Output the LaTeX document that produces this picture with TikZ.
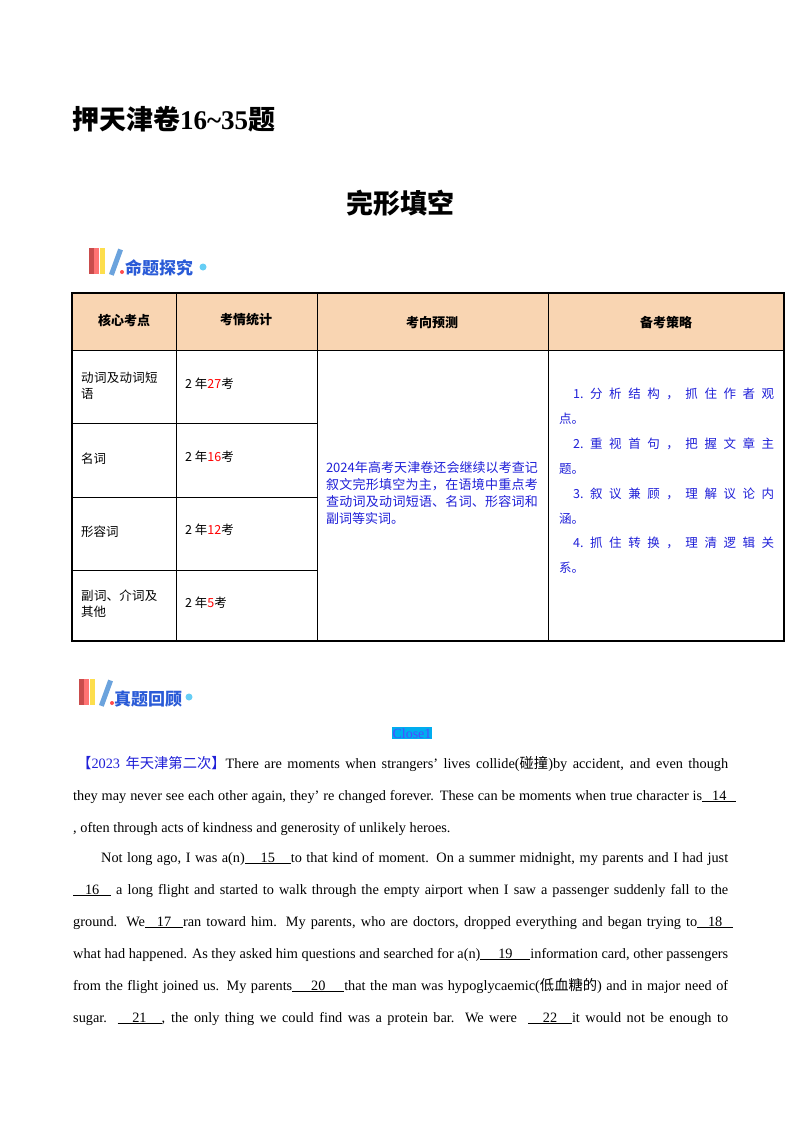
\documentclass[tikz,border=0pt]{standalone}
\usepackage{fontspec}
\setmainfont{Liberation Serif}
\newfontfamily\cjk{Noto Sans CJK SC}
\XeTeXlinebreaklocale "zh"
\XeTeXlinebreakskip=0pt plus 1pt
\usetikzlibrary{positioning}
\definecolor{peach}{HTML}{F9D5B2}
\definecolor{tblue}{HTML}{2020D8}
\definecolor{hblue}{HTML}{2A5BD7}
\newcommand{\bl}[2]{\underline{\makebox[#1pt]{#2}}}
\newcommand{\zh}[1]{{\cjk #1}}
\tikzset{x=1pt,y=-1pt,
 ln/.style={anchor=base west,inner sep=0pt,font=\fontsize{14.3}{15}\selectfont},
 cell/.style={anchor=west,inner sep=0pt,font=\cjk\fontsize{12.5}{16}\selectfont},
 hd/.style={inner sep=0pt,font=\cjk\bfseries\fontsize{13}{15}\selectfont},
 blu/.style={inner sep=0pt,font=\cjk\fontsize{12.5}{17}\selectfont,text=tblue}}
\newcommand{\books}[2]{%
 \fill[red!70!black!70] (#1,#2) rectangle ++(5,-26);
 \fill[red!55] (#1+5,#2) rectangle ++(5,-26);
 \fill[yellow!70!orange!70] (#1+11,#2) rectangle ++(5,-26);
 \fill[cyan!60!blue!60,rotate around={-20:(#1+20,#2)}] (#1+20,#2) rectangle ++(5,-27);
 \fill[red!70] (#1+33,#2-2) circle (2);}
\begin{document}
\begin{tikzpicture}
\useasboundingbox (0,0) rectangle (800,1132);
\fill[white] (0,0) rectangle (800,1132);
\node[anchor=base west,inner sep=0pt,font=\cjk\bfseries\fontsize{27}{30}\selectfont] (t1) at (72,129) {押天津卷{\rmfamily\bfseries 16\textasciitilde35}题};
\node[anchor=base,inner sep=0pt,font=\cjk\bfseries\fontsize{27}{30}\selectfont] (t2) at (400,213) {完形填空};
% section 1
\books{89}{274}
\node[anchor=base west,inner sep=0pt,font=\cjk\bfseries\fontsize{17}{20}\selectfont,text=hblue] (s1) at (125,274) {命题探究};
\fill[cyan!60] (203,267) circle (3.5);
% table
\fill[peach] (72,293) rectangle (784,350);
\draw[line width=1.6pt] (72,293) rectangle (784,641);
\draw[line width=1pt] (72,350) -- (784,350);
\foreach \x in {176,317,548} \draw[line width=1pt] (\x,293) -- (\x,641);
\foreach \y in {423,497,570} \draw[line width=1pt] (72,\y) -- (317,\y);
\node[hd] (h1) at (124,320) {核心考点};
\node[hd] (h2) at (246,320) {考情统计};
\node[hd] (h3) at (432,323) {考向预测};
\node[hd] (h4) at (666,323) {备考策略};
\node[cell,text width=84pt,align=left] (a1) at (81,386) {动词及动词短语};
\node[cell] (a2) at (81,459) {名词};
\node[cell] (a3) at (81,532) {形容词};
\node[cell,text width=84pt,align=left] (a4) at (81,604) {副词、介词及其他};
\node[cell] (b1) at (185,384) {2 年\textcolor{red}{27}考};
\node[cell] (b2) at (185,457) {2 年\textcolor{red}{16}考};
\node[cell] (b3) at (185,530) {2 年\textcolor{red}{12}考};
\node[cell] (b4) at (185,603) {2 年\textcolor{red}{5}考};
\node[blu,text width=212pt,align=justify,font=\cjk\fontsize{13}{17}\selectfont] (c1) at (432,493) {2024年高考天津卷还会继续以考查记叙文完形填空为主，在语境中重点考查动词及动词短语、名词、形容词和副词等实词。};
\foreach \t/\y in {{\hspace{14pt}1.\hfill 分\hfill 析\hfill 结\hfill 构\hfill ，\hfill 抓\hfill 住\hfill 作\hfill 者\hfill 观}/394,{点。}/419,
 {\hspace{14pt}2.\hfill 重\hfill 视\hfill 首\hfill 句\hfill ，\hfill 把\hfill 握\hfill 文\hfill 章\hfill 主}/444,{题。}/469,
 {\hspace{14pt}3.\hfill 叙\hfill 议\hfill 兼\hfill 顾\hfill ，\hfill 理\hfill 解\hfill 议\hfill 论\hfill 内}/494,{涵。}/519,
 {\hspace{14pt}4.\hfill 抓\hfill 住\hfill 转\hfill 换\hfill ，\hfill 理\hfill 清\hfill 逻\hfill 辑\hfill 关}/543,{系。}/568}
 \node[blu,anchor=west] at (559,\y) {\hbox to 215pt{\t\hfil}};
% section 2
\books{79}{705}
\node[anchor=base west,inner sep=0pt,font=\cjk\bfseries\fontsize{17}{20}\selectfont,text=hblue] (s2) at (114,705) {真题回顾};
\fill[cyan!60] (189,697) circle (3.5);
\node[fill=cyan,inner sep=1pt,anchor=base,font=\fontsize{14}{15}\selectfont,text=blue!70] (cl) at (412,738) {Close1};
\node[ln] (p1) at (77,768) {\hbox to 651pt{\textcolor{tblue}{\zh{【}2023 \zh{年天津第二次】}}There are moments when strangers’ lives collide(\zh{碰撞})by accident, and even though}};
\node[ln] (p2) at (73,800) {\hbox to 663pt{they may never see each other again, they’ re changed forever. These can be moments when true character is\bl{34}{14}}};
\node[ln] (p3) at (73,832) {, often through acts of kindness and generosity of unlikely heroes.};
\node[ln] (p4) at (101,862) {\hbox to 627pt{Not long ago, I was a(n)\bl{46}{15}to that kind of moment. On a summer midnight, my parents and I had just}};
\node[ln] (p5) at (73,894) {\hbox to 655pt{\bl{38}{16}\ a long flight and started to walk through the empty airport when I saw a passenger suddenly fall to the}};
\node[ln] (p6) at (73,926) {\hbox to 660pt{ground. We\bl{38}{17}ran toward him. My parents, who are doctors, dropped everything and began trying to\bl{36}{18}}};
\node[ln] (p7) at (73,958) {\hbox to 655pt{what had happened. As they asked him questions and searched for a(n)\bl{50}{19}information card, other passengers}};
\node[ln] (p8) at (73,990) {\hbox to 655pt{from the flight joined us. My parents\bl{52}{20}that the man was hypoglycaemic(\zh{低血糖的}) and in major need of}};
\node[ln] (p9) at (73,1022) {\hbox to 655pt{sugar. \bl{44}{21}, the only thing we could find was a protein bar. We were \ \bl{44}{22}it would not be enough to}};
\end{tikzpicture}
\end{document}
